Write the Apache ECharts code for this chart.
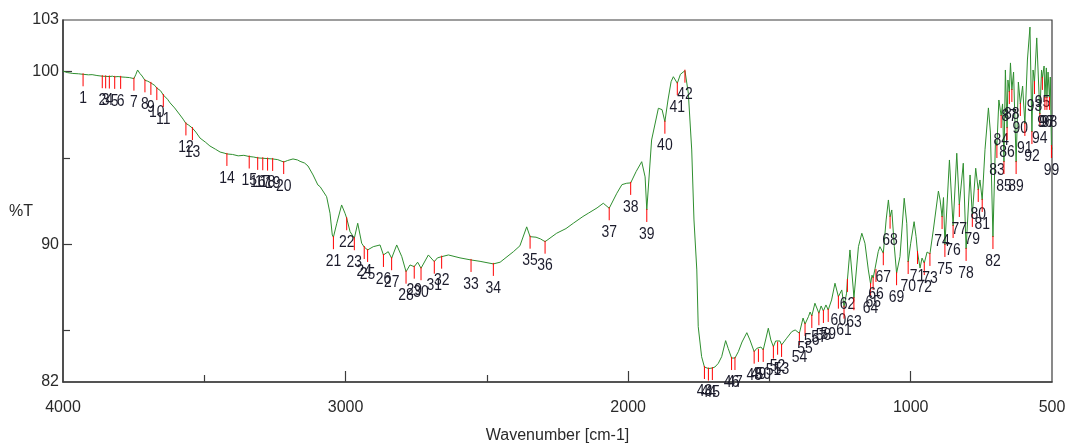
<!DOCTYPE html>
<html>
<head>
<meta charset="utf-8">
<script src="https://cdn.jsdelivr.net/npm/echarts@6/dist/echarts.min.js"></script>
<style>
html,body{margin:0;padding:0;background:#fff;}
#chart{width:1068px;height:444px;}
</style>
</head>
<body>
<div id="chart"></div>
<script>
// Spectrum: wavenumber (cm-1) and %T
var wavenumbers = [4000,3985,3965,3945,3929,3910,3897,3880,3861,3849,3836,3825,3817,3805,3796,3780,3765,3749,3742,3736,3728,3720,3710,3700,3689,3675,3668,3655,3645,3630,3621,3605,3586,3575,3565,3555,3542,3530,3515,3495,3480,3460,3444,3430,3420,3400,3380,3360,3341,3325,3311,3293,3276,3258,3240,3219,3205,3186,3170,3161,3145,3133,3115,3098,3090,3067,3055,3047,3043,3031,3014,3002,2996,2984,2969,2957,2943,2934,2928,2922,2902,2878,2866,2849,2837,2819,2801,2786,2772,2757,2745,2733,2707,2686,2675,2660,2636,2595,2556,2524,2477,2453,2406,2383,2359,2347,2326,2310,2294,2253,2220,2194,2160,2141,2110,2088,2082,2067,2040,2022,2005,1991,1972,1952,1940,1934,1917,1893,1880,1870,1859,1848,1840,1826,1815,1810,1799,1787,1775,1767,1757,1752,1740,1730,1716,1702,1693,1681,1669,1655,1646,1634,1628,1622,1610,1597,1580,1569,1554,1545,1539,1530,1522,1512,1504,1495,1486,1478,1471,1463,1457,1439,1421,1409,1394,1381,1374,1362,1356,1350,1339,1325,1317,1309,1300,1292,1280,1268,1256,1244,1236,1227,1224,1215,1203,1201,1185,1173,1162,1150,1142,1137,1133,1126,1123,1115,1109,1097,1087,1079,1073,1067,1058,1050,1038,1023,1014,1009,1000,988,981,976,967,960,952,942,932,920,902,896,889,884,879,863,857,850,837,828,814,804,790,782,770,761,755,747,737,725,718,709,700,695,688,680,675,670,665,659,656,651,647,642,636,627,619,612,604,596,587,578,571,567,562,554,543,537,534,528,525,520,518,514,509,506,502,500];
var transmittance = [100.04,99.95,99.9,99.88,99.85,99.82,99.83,99.78,99.74,99.73,99.72,99.74,99.7,99.72,99.7,99.68,99.66,99.6,99.85,100.1,99.9,99.75,99.5,99.45,99.35,99.2,99.05,98.9,98.65,98.4,98.19,97.9,97.49,97.25,97.0,96.9,96.73,96.5,96.15,95.9,95.69,95.5,95.34,95.28,95.23,95.2,95.12,95.15,95.08,95.05,95.0,94.98,94.96,94.94,94.9,94.76,94.85,94.94,94.88,94.8,94.7,94.53,94.01,93.43,93.33,92.75,91.79,90.53,90.4,91.21,92.27,91.79,91.5,90.72,90.34,91.21,90.05,89.83,89.9,89.66,89.85,89.95,89.37,89.56,89.18,89.95,89.27,88.4,88.79,88.69,88.95,88.6,89.37,88.98,89.2,89.27,89.37,89.2,89.08,89.0,88.85,88.95,89.56,89.9,91.0,90.43,90.4,90.3,90.14,90.63,90.9,91.21,91.6,91.79,92.1,92.37,92.46,92.08,92.95,93.45,93.53,93.55,94.2,94.78,93.9,91.98,96.04,97.88,97.8,97.1,98.36,99.42,99.71,99.33,99.85,99.91,100.06,98.75,95.46,91.4,88.5,85.21,83.47,82.87,82.78,82.81,82.87,83.08,83.47,84.4,83.95,83.39,83.28,83.39,83.76,84.32,84.86,84.44,83.76,83.95,83.86,84.03,83.86,84.55,85.12,84.44,84.05,84.38,84.28,84.38,84.15,84.54,84.92,85.02,84.83,85.71,85.36,85.79,86.06,85.83,86.57,85.99,86.41,86.12,86.47,86.18,86.76,87.73,86.95,87.34,86.37,87.15,87.92,89.66,87.34,86.86,89.85,90.63,90.05,88.5,87.69,88.2,88.03,88.6,88.5,89.56,89.85,89.47,91.4,92.56,91.59,91.98,89.85,88.31,89.27,92.66,91.21,88.96,90.05,91.3,90.43,89.54,88.61,89.19,88.9,89.54,89.43,90.82,93.08,92.56,91.57,92.7,89.95,94.88,93.14,91.05,95.27,92.27,94.69,89.72,94.01,91.69,94.4,93.14,93.72,92.56,95.5,97.9,96.5,90.41,96.04,95.69,98.36,97.43,98.13,94.76,100.1,96.73,99.52,98.82,100.51,98.94,99.98,94.76,99.4,98.13,99.17,96.97,100.68,102.59,96.5,100.1,99.4,101.96,97.55,100.1,99.64,100.33,98.48,100.22,98.48,99.98,98.48,99.69,95.69,95.5];

// Labelled peaks (numbered 1..99 in order)
var peakWavenumbers = [3929,3861,3849,3836,3817,3796,3749,3710,3689,3668,3645,3565,3542,3420,3341,3311,3293,3276,3258,3219,3043,2996,2969,2934,2922,2866,2837,2786,2757,2733,2686,2660,2556,2477,2347,2294,2067,1991,1934,1870,1826,1799,1730,1716,1702,1634,1622,1554,1539,1522,1486,1471,1457,1394,1374,1350,1325,1309,1292,1256,1236,1224,1201,1142,1133,1123,1097,1073,1050,1009,976,952,932,889,879,850,828,804,782,761,747,709,695,680,670,659,651,642,627,612,596,571,562,543,534,525,518,509,502];
var peakTransmittance = [99.85,99.74,99.73,99.72,99.7,99.7,99.6,99.5,99.35,99.05,98.65,97.0,96.73,95.23,95.08,95.0,94.98,94.96,94.94,94.76,90.4,91.5,90.34,89.83,89.66,89.37,89.18,88.4,88.69,88.6,88.98,89.27,89.08,88.85,90.43,90.14,92.08,93.55,91.98,97.1,99.33,100.06,82.87,82.78,82.81,83.39,83.39,83.76,83.86,83.86,84.05,84.28,84.15,84.83,85.36,85.83,85.99,86.12,86.18,86.95,86.37,87.92,86.86,87.69,88.03,88.5,89.47,91.59,88.31,88.96,89.54,88.9,89.43,91.57,89.95,91.05,92.27,89.72,91.69,93.14,92.56,90.41,95.69,97.43,94.76,96.73,98.82,98.94,94.76,98.13,96.97,96.5,99.4,97.55,99.64,98.48,98.48,98.48,95.69];

var xLabelValues = [4000, 3000, 2000, 1000, 500];
var xMajorTicks = [3000, 2000, 1000];
var xMinorTicks = [3500, 2500, 1500];
var yLabelValues = [82, 90, 100, 103];
var yMajorTicks = [90, 100];
var yMinorTicks = [85, 95];

var FONT = '"Liberation Sans", Arial, sans-serif';

var spectrum = wavenumbers.map(function (w, i) { return [w, transmittance[i]]; });
var peaks = peakWavenumbers.map(function (w, i) { return [w, peakTransmittance[i], String(i + 1)]; });
function plain(v) { return String(v); }

var chart = echarts.init(document.getElementById('chart'), null, {renderer: 'canvas'});
var axisColor = '#3c3c3c';
var textColor = '#2a2a2a';
chart.setOption({
  animation: false,
  backgroundColor: '#ffffff',
  graphic: [{
    type: 'text', left: 9, top: 204,
    style: {text: '%T', font: '16px ' + FONT, fill: textColor}
  }],
  grid: {left: 63, right: 16, top: 20, bottom: 62, show: true, borderColor: axisColor, borderWidth: 1.2, backgroundColor: 'transparent', outerBoundsMode: 'none'},
  xAxis: [{
    type: 'value', min: 500, max: 4000, inverse: true, position: 'bottom',
    name: 'Wavenumber [cm-1]', nameLocation: 'middle', nameGap: 46,
    nameTextStyle: {fontFamily: FONT, fontSize: 16, color: textColor},
    axisLine: {show: true, onZero: false, lineStyle: {color: axisColor, width: 1.5}},
    axisTick: {show: true, inside: true, length: 11, customValues: xMajorTicks, lineStyle: {color: axisColor, width: 1.2}},
    axisLabel: {show: true, customValues: xLabelValues, formatter: plain, margin: 18, fontFamily: FONT, fontSize: 16, color: textColor},
    splitLine: {show: false}
  }, {
    type: 'value', min: 500, max: 4000, inverse: true, position: 'bottom',
    axisLine: {show: false},
    axisTick: {show: true, inside: true, length: 7, customValues: xMinorTicks, lineStyle: {color: axisColor, width: 1.2}},
    axisLabel: {show: false},
    splitLine: {show: false}
  }],
  yAxis: [{
    type: 'value', min: 82, max: 103, position: 'left',
    axisLine: {show: true, onZero: false, lineStyle: {color: axisColor, width: 1.5}},
    axisTick: {show: true, inside: true, length: 9, customValues: yMajorTicks, lineStyle: {color: axisColor, width: 1.2}},
    axisLabel: {show: true, customValues: yLabelValues, formatter: plain, margin: 4, fontFamily: FONT, fontSize: 16, color: textColor},
    splitLine: {show: false}
  }, {
    type: 'value', min: 82, max: 103, position: 'left',
    axisLine: {show: false},
    axisTick: {show: true, inside: true, length: 7, customValues: yMinorTicks, lineStyle: {color: axisColor, width: 1.2}},
    axisLabel: {show: false},
    splitLine: {show: false}
  }],
  series: [{
    type: 'line', name: 'spectrum', xAxisIndex: 0, yAxisIndex: 0,
    data: spectrum, showSymbol: false, symbol: 'none',
    lineStyle: {color: '#2f8f2f', width: 1}, z: 3
  }, {
    type: 'custom', name: 'peaks', xAxisIndex: 0, yAxisIndex: 0, clip: false, z: 4,
    data: peaks,
    renderItem: function (params, api) {
      var p = api.coord([api.value(0), api.value(1)]);
      return {
        type: 'group',
        children: [{
          type: 'line',
          shape: {x1: p[0], y1: p[1] - 1, x2: p[0], y2: p[1] + 12},
          style: {stroke: '#ff0000', lineWidth: 1}
        }, {
          type: 'text',
          x: p[0], y: p[1] + 24, scaleX: 0.82,
          style: {text: peaks[params.dataIndex][2], align: 'center', verticalAlign: 'middle',
                  font: '17px ' + FONT, fill: '#1c1c2c'}
        }]
      };
    }
  }]
});
</script>
</body>
</html>
